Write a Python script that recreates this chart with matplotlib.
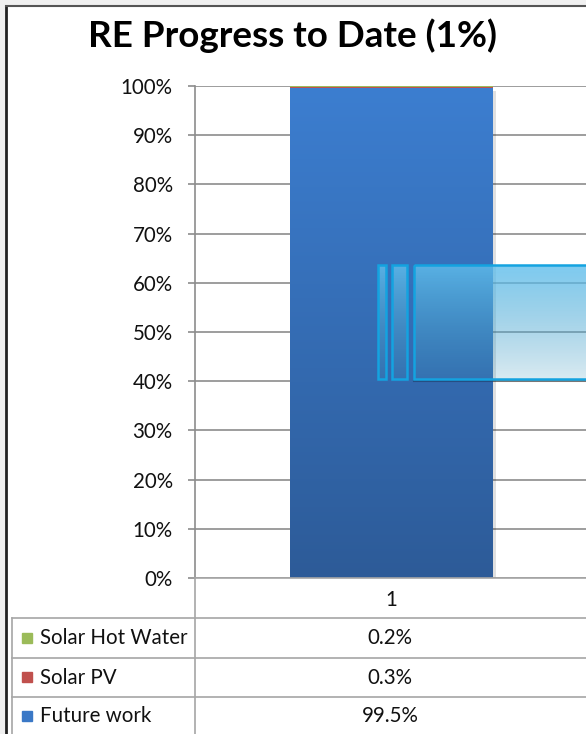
'''RE Progress to Date のグラフを再現する'''
import matplotlib
matplotlib.use('Agg')
import matplotlib.pyplot as plt
import matplotlib.patches as patches
import numpy as np

W = 586
H = 734

# データ
categories = ['1']
series = ['Solar Hot Water', 'Solar PV', 'Future work']
values = [0.2, 0.3, 99.5]
series_colors = ['#9BBB59', '#C0504D', '#3A78C6']
yticks = list(range(0, 101, 10))
title = 'RE Progress to Date (1%)'

plt.rcParams['font.family'] = ['Lato', 'DejaVu Sans']
FS = 14.8
TXT = '#111111'

fig = plt.figure(figsize=(W / 100, H / 100), dpi=100)
fig.patch.set_facecolor('white')


def px(x0, y0, x1, y1):
    # ピクセル座標 -> figure座標
    return [x0 / W, 1 - y1 / H, (x1 - x0) / W, (y1 - y0) / H]


# グラフ本体
ax = fig.add_axes(px(195, 86, 588, 578))
ax.set_xlim(0.5, 1.5)
ax.set_ylim(0, 100)
bar_w = 203 / 393

# 積み上げ (下から Future work, Solar PV, Solar Hot Water)
bottom = 0
bars = {}
for name, val, col in reversed(list(zip(series, values, series_colors))):
    b = ax.bar(1, val, bar_w, bottom=bottom, color=col, zorder=3, linewidth=0)
    bars[name] = b[0]
    bottom += val

# Future work はグラデーション
fw = bars['Future work']
fw.set_facecolor('none')
grad = np.linspace(0, 1, 256).reshape(-1, 1)
top_c = np.array([0x3C, 0x7E, 0xD0]) / 255
bot_c = np.array([0x2D, 0x5B, 0x98]) / 255
img = (bot_c * (1 - grad)[..., None] + top_c * grad[..., None])
im = ax.imshow(img, extent=[1 - bar_w / 2, 1 + bar_w / 2, 0, values[2]],
               origin='lower', aspect='auto', zorder=3)
im.set_clip_path(fw)
# 影
ax.bar(1 + 0.008, values[2], bar_w, bottom=-0.6, color='#000000', alpha=0.12,
       zorder=2, linewidth=0)

ax.set_yticks(yticks)
ax.set_yticklabels(['%d%%' % t for t in yticks], fontsize=FS, color=TXT)
ax.set_xticks([])
ax.yaxis.grid(True, color='#8c8c8c', linewidth=1.2, zorder=1)
ax.tick_params(axis='y', length=5, width=1.2, color='#8c8c8c', pad=11)
for s in ['top', 'right', 'bottom']:
    ax.spines[s].set_visible(False)
ax.spines['left'].set_color('#8c8c8c')
ax.spines['left'].set_linewidth(1.2)

# 重ねる用の軸 (ピクセル座標)
ov = fig.add_axes([0, 0, 1, 1], facecolor='none')
ov.set_xlim(0, W)
ov.set_ylim(H, 0)
ov.axis('off')

# タイトル
ov.text(293, 36, title, ha='center', va='center', fontsize=26.5, fontweight='bold',
        color='black')

# データテーブル
lc = '#a6a6a6'
ov.plot([195, 195], [578, H], color=lc, lw=1.2)
ov.plot([12, 12], [618, H], color=lc, lw=1.2)
for y in [618, 658, 697]:
    ov.plot([12, W], [y, y], color=lc, lw=1.2)
ov.plot([195, W], [578, 578], color=lc, lw=1.2)
ov.text(391, 600, categories[0], ha='center', va='center', fontsize=FS, color=TXT)
row_y = [638.5, 678, 716.5]
for name, val, col, y in zip(series, values, series_colors, row_y):
    ov.add_patch(patches.Rectangle((22, y - 6), 10, 10, color=col))
    ov.text(40, y, name, ha='left', va='center', fontsize=FS, color=TXT)
    ov.text(390, y, '%.1f%%' % val, ha='center', va='center', fontsize=FS,
            color=TXT)

# 外枠
ov.add_patch(patches.Rectangle((0, 0), 5, H, color='#f0f0f0'))
ov.add_patch(patches.Rectangle((0, 0), W, 5, color='#f0f0f0'))
ov.plot([6, 6], [6, H], color='#222222', lw=2)
ov.plot([6, W], [6, 6], color='#555555', lw=1.5)

# ツールチップのような半透明の四角
ov_top = np.array([0.38, 0.75, 0.93])
ov_bot = np.array([0.25, 0.60, 0.75])
g = np.linspace(0, 1, 128).reshape(-1, 1)
rgba = np.zeros((128, 1, 4))
rgba[..., :3] = ov_top * (1 - g)[..., None] + ov_bot * g[..., None]
rgba[..., 3] = 0.82 * (1 - g) + 0.2 * g
for x0, x1 in [(378, 386), (392, 407), (414, 600)]:
    r = patches.Rectangle((x0, 265), x1 - x0, 114, facecolor='none',
                          edgecolor='#14A3E0', lw=1.8, zorder=6)
    ov.add_patch(r)
    o = ov.imshow(rgba, extent=[x0, x1, 379, 265], aspect='auto', zorder=5)
    o.set_clip_path(r)
ov.plot([414, W], [381, 381], color='#000000', alpha=0.25, lw=1.5, zorder=4)
ov.set_xlim(0, W)
ov.set_ylim(H, 0)

fig.savefig('out.png', dpi=100)
